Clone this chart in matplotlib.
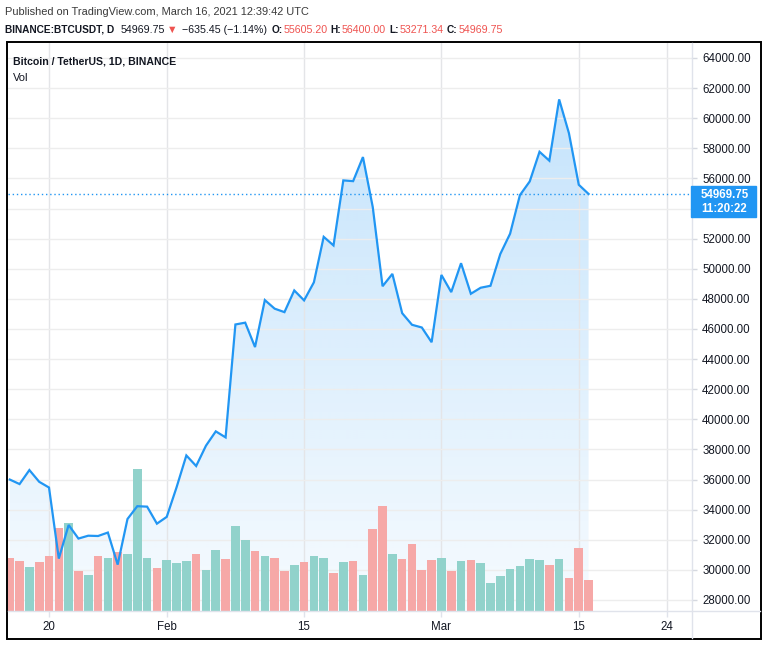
import numpy as np
import pandas as pd
import matplotlib
matplotlib.use("Agg")
import matplotlib.pyplot as plt
import matplotlib.dates as mdates
from matplotlib.patches import Rectangle
from matplotlib.lines import Line2D
from matplotlib.ticker import FuncFormatter

plt.rcParams['font.family'] = ['Liberation Sans', 'DejaVu Sans']

# daily closes BTCUSDT, Jan 16 - Mar 16 2021
dates = pd.date_range("2021-01-16", "2021-03-16", freq="D")
close = [36000, 35700, 36630, 35850, 35470, 30750, 32980, 32080, 32270, 32250, 32480, 30350,
         33380, 34230, 34200, 33070,
         33520, 35480, 37600, 36900, 38250, 39200, 38800, 46300, 46420, 44800, 47920, 47350,
         47120, 48560, 47900, 49100, 52120, 51550, 55870, 55820, 57420, 54100, 48840, 49660,
         47050, 46280, 46100, 45120,
         49590, 48450, 50370, 48340, 48740, 48870, 50980, 52330, 54890, 55800, 57770, 57180,
         61250, 59000, 55580, 54969.75]

# volume (thousand BTC), u = up day, d = down day
volume = [86, 82, 72, 80, 90, 135, 143, 65, 59, 90, 86, 96, 93, 231, 86, 70,
          83, 78, 82, 93, 67, 99, 85, 139, 116, 98, 90, 86, 65, 75, 80, 90, 86, 62, 80, 82,
          59, 134, 170, 93, 85, 109, 67, 83,
          86, 65, 82, 83, 78, 46, 57, 68, 73, 85, 83, 75, 85, 54, 103, 51]
vol_dir = "ddudddudududuuud" + "uuuduuduududduduudududdudddd" + "ududuuuuuuududdd"

last_price = 54969.75
change = "\u2212635.45 (\u22121.14%)"
ohlc_labels = ["O:", "H:", "L:", "C:"]
ohlc_values = [55605.20, 56400.00, 53271.34, 54969.75]
countdown = "11:20:22"
price_ticks = np.arange(28000, 64001, 2000)
date_ticks = pd.to_datetime(["2021-01-20", "2021-02-01", "2021-02-15",
                             "2021-03-01", "2021-03-15", "2021-03-24"])
date_labels = ["20", "Feb", "15", "Mar", "15", "24"]

published = "Published on TradingView.com, March 16, 2021 12:39:42 UTC"
symbol = "BINANCE:BTCUSDT, D"
legend_title = "Bitcoin / TetherUS, 1D, BINANCE"

BLUE = '#2196f3'
RED = '#ef5350'
DARK = '#131722'
GRID = '#ededed'

W, H = 768, 646


def fx(px):
    return px / W


def fy(py):
    return 1 - py / H


fig = plt.figure(figsize=(W / 100, H / 100), dpi=100)
rect = [fx(8), fy(611), fx(691) - fx(8), fy(43) - fy(611)]
ax = fig.add_axes(rect)
axv = fig.add_axes(rect, sharex=ax)
axl = fig.add_axes(rect, sharex=ax, sharey=ax)

xd = mdates.date2num(dates)
x0 = mdates.date2num(pd.Timestamp("2021-01-20"))
ylo, yhi = 27269, 64996

# gradient area under the line
grad = np.zeros((256, 1, 4))
grad[..., 0] = 33 / 255
grad[..., 1] = 150 / 255
grad[..., 2] = 243 / 255
grad[..., 3] = np.linspace(0.26, 0.04, 256)[:, None]
im = ax.imshow(grad, extent=[xd[0], xd[-1], ylo, max(close)], aspect='auto',
               origin='upper', zorder=0.5, interpolation='bilinear')
poly = ax.fill_between(xd, close, ylo, facecolor='none', edgecolor='none')
im.set_clip_path(poly.get_paths()[0], transform=ax.transData)

ax.set_xlim(x0 - 4.18, x0 + 65.44)
ax.set_ylim(ylo, yhi)

ax.set_yticks(price_ticks)
ax.yaxis.tick_right()
ax.yaxis.set_major_formatter(FuncFormatter(lambda v, p: '' if v == 54000 else f'{v:.2f}'))
ax.set_xticks(mdates.date2num(date_ticks))
ax.set_xticklabels(date_labels)
ax.tick_params(axis='y', length=4, width=1, color='#d6d9e0', pad=4,
               labelsize=8.3, labelcolor=DARK)
ax.tick_params(axis='x', length=4, width=1, color='#e0e3eb', pad=3,
               labelsize=8.3, labelcolor=DARK)
ax.grid(axis='y', color=GRID, lw=1)
ax.grid(axis='x', color='#e4e5e8', lw=1)
for s in ax.spines.values():
    s.set_visible(False)

# volume bars
colors = ['#91d2cb' if c == 'u' else '#f6a8a7' for c in vol_dir]
axv.bar(xd, volume, width=0.88, color=colors, zorder=2)
axv.set_ylim(0, max(volume) * 4.0)
axv.axis('off')
axv.patch.set_visible(False)

# price line
axl.plot(xd, close, color=BLUE, lw=1.6, solid_joinstyle='miter')
axl.axhline(last_price, color=BLUE, lw=1, ls=(0, (1, 2)))
axl.axis('off')
axl.patch.set_visible(False)

# separators and frame
fig.add_artist(Line2D([fx(8), fx(760)], [fy(611), fy(611)], color='#e0e3eb', lw=1,
                      transform=fig.transFigure))
fig.add_artist(Line2D([fx(692), fx(692)], [fy(43), fy(638)], color='#e0e3eb', lw=1,
                      transform=fig.transFigure))
fig.add_artist(Rectangle((fx(7), fy(639)), fx(761) - fx(7), fy(42) - fy(639), fill=False,
                         lw=1.4, ec='black', transform=fig.transFigure))

# last price label
fig.add_artist(Rectangle((fx(691), fy(217)), fx(756) - fx(691), fy(186) - fy(217),
                         color=BLUE, transform=fig.transFigure, zorder=3))
fig.text(fx(701), fy(195), f'{last_price:.2f}', color='white', fontsize=8.3,
         fontweight='bold', va='center', zorder=4)
fig.text(fx(701), fy(209), countdown, color='white', fontsize=8.3,
         fontweight='bold', va='center', zorder=4)

# header
fig.text(fx(5), fy(12), published, fontsize=7.9, color='#3a3a3a', va='center')
pieces = [(symbol, 6, 'bold', DARK),
          (f"{last_price:.2f}", 2, 'normal', DARK),
          ("\u25bc", 5, 'normal', RED),
          (change, 4, 'normal', DARK)]
for lab, val in zip(ohlc_labels, ohlc_values):
    pieces.append((lab, 1, 'bold', DARK))
    pieces.append((f"{val:.2f}", 3, 'normal', RED))

renderer = fig.canvas.get_renderer()
xpos = 5
for txt, gap, wt, col in pieces:
    size = 7.3 if wt == 'bold' else 7.7
    t = fig.text(fx(xpos), fy(30), txt, fontsize=size, fontweight=wt, color=col, va='center')
    xpos += t.get_window_extent(renderer=renderer).width + gap

fig.text(fx(13), fy(61), legend_title, fontsize=7.6, fontweight='bold', color=DARK, va='center')
fig.text(fx(13), fy(78), "Vol", fontsize=8.0, color=DARK, va='center')

fig.savefig("out.png", dpi=100)
